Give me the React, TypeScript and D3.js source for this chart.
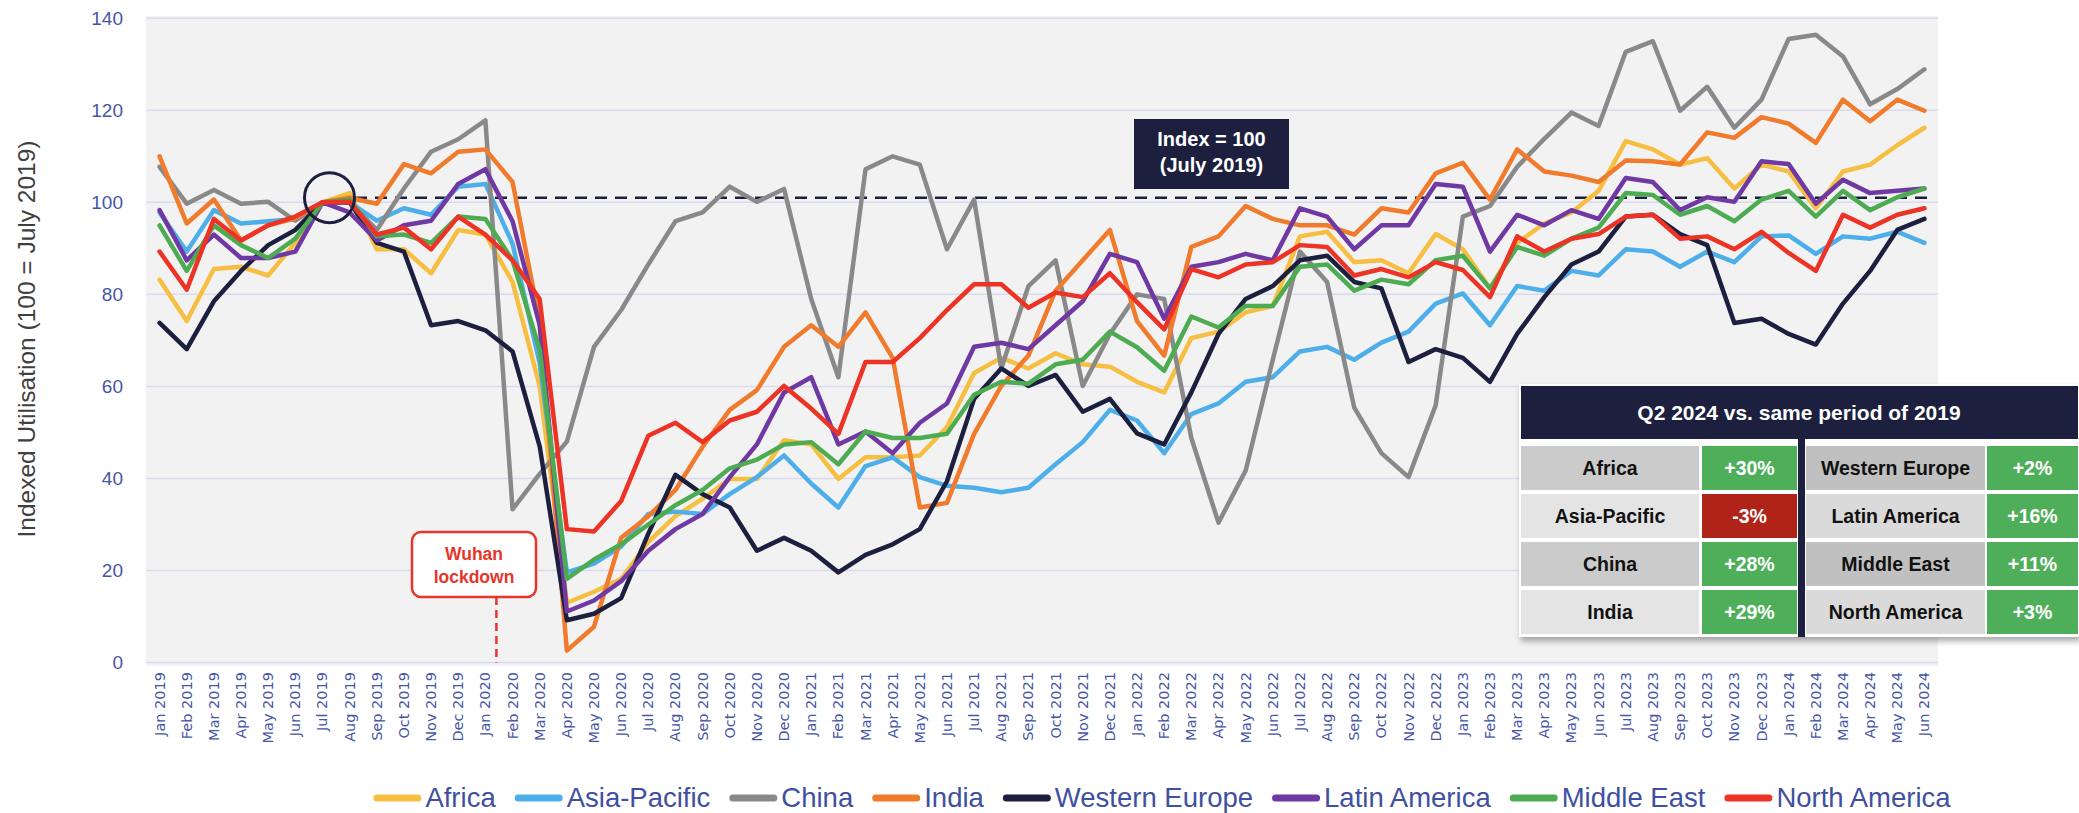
import React, { useRef, useEffect } from "react";
import * as d3 from "d3";

const MONTH_NAMES = ["Jan", "Feb", "Mar", "Apr", "May", "Jun", "Jul", "Aug", "Sep", "Oct", "Nov", "Dec"];
const YEARS = [2019, 2020, 2021, 2022, 2023, 2024];
export const months = YEARS.flatMap((yr) => MONTH_NAMES.map((m) => `${m} ${yr}`)).slice(0, 66);

// indexed utilisation, 100 = July 2019
export const africa = [
  83.2, 74.2, 85.5, 86, 84.1, 91.2, 100, 102, 89.8, 89.8, 84.6, 94,
  93, 82.7, 60, 13, 15.4, 18.2, 26.2, 31.8, 35.6, 39.9, 39.9, 48.3,
  47.4, 39.9, 44.6, 44.6, 45, 51.2, 62.9, 66.2, 63.9, 67.2, 64.8, 64.3,
  61, 58.7, 70.5, 71.9, 76.1, 77.5, 92.6, 93.6, 87, 87.4, 84.6, 93.1,
  89.8, 81.3, 91.2, 95.4, 97.8, 102.5, 113.3, 111.5, 108.2, 109.6, 103, 108.2,
  106.7, 98.7, 106.7, 108.2, 112.4, 116.2,
];
export const asiaPacific = [
  97.8, 89.3, 98.3, 95.4, 95.9, 96.4, 100, 100, 96, 98.7, 97.3, 103.4,
  104, 91, 65, 19.6, 21.5, 25.2, 32.3, 32.8, 32.3, 36.6, 40.3, 45,
  38.9, 33.7, 42.7, 44.6, 40.3, 38.4, 38, 37, 38, 43.1, 47.9, 54.9,
  52.6, 45.5, 54, 56.3, 61, 62, 67.6, 68.6, 65.8, 69.5, 71.9, 78,
  80.2, 73.3, 81.8, 80.8, 85.1, 84.1, 89.8, 89.3, 86, 89.3, 87, 92.6,
  92.8, 88.8, 92.6, 92.1, 93.6, 91.2,
];
export const china = [
  107.7, 99.7, 102.7, 99.7, 100.1, 96, 100, 100, 94, 103, 111, 113.7,
  117.8, 33.3, 41, 48, 68.6, 76.6, 86.5, 95.9, 97.8, 103.4, 100.1, 102.9,
  79, 62, 107.2, 110, 108.2, 89.8, 100.6, 63.9, 81.8, 87.4, 60.1, 71.4,
  80, 79, 48.8, 30.4, 41.7, 65.8, 89.3, 82.7, 55.4, 45.5, 40.3, 55.9,
  96.9, 99.2, 107.7, 113.8, 119.5, 116.6, 132.7, 135, 119.9, 125.1, 116.2, 122.3,
  135.5, 136.4, 131.7, 121.3, 124.6, 128.9,
];
export const india = [
  110, 95.4, 100.6, 91.7, 95, 96.5, 100, 101, 99.7, 108.3, 106.3, 111,
  111.5, 104.4, 74, 2.6, 7.8, 27.1, 31.8, 37.5, 46.9, 54.9, 59.2, 68.6,
  73.3, 68.6, 76.1, 66.2, 33.7, 34.7, 49.7, 60.1, 66.7, 80.8, 87.4, 94,
  74.2, 66.7, 90.3, 92.6, 99.2, 96.4, 95, 95, 93, 98.7, 97.8, 106.3,
  108.6, 100.6, 111.5, 106.7, 105.8, 104.4, 109.1, 108.9, 108.2, 115.2, 114, 118.5,
  117.1, 112.9, 122.3, 117.6, 122.3, 119.9,
];
export const westernEurope = [
  73.8, 68.1, 78.5, 85.1, 90.7, 94, 100, 100, 91.2, 89.3, 73.3, 74.2,
  72.2, 67.6, 47, 9.2, 10.6, 14, 28, 40.8, 36.6, 33.7, 24.3, 27.1,
  24.3, 19.6, 23.4, 25.7, 29, 39.4, 57.3, 63.9, 60.1, 62.5, 54.5, 57.3,
  49.8, 47.4, 58.7, 71.4, 79, 81.8, 87.4, 88.4, 82.7, 81.3, 65.3, 68.1,
  66.2, 61, 71.4, 79.4, 86.5, 89.3, 96.9, 97.3, 93.1, 90.7, 73.8, 74.7,
  71.4, 69.1, 78, 85.1, 94, 96.4,
];
export const latinAmerica = [
  98.3, 87.4, 93, 87.9, 87.9, 89.3, 100, 97.8, 91.7, 95, 96, 104,
  107.2, 95.9, 73.3, 11.1, 13.5, 17.7, 24.3, 29, 32.3, 40.3, 47.4, 58.7,
  62, 47.4, 50.2, 45.5, 52.1, 56.3, 68.6, 69.5, 68.1, 73.3, 78.5, 88.8,
  87, 74.7, 86, 87, 88.8, 87.4, 98.7, 96.9, 89.8, 95, 95, 104,
  103.4, 89.3, 97.3, 95, 98.3, 96.4, 105.3, 104.4, 98.3, 101.1, 100.1, 108.9,
  108.3, 99.7, 104.9, 102, 102.5, 103,
];
export const middleEast = [
  95, 85.1, 95, 90.7, 87.9, 92.1, 100, 100.6, 92.6, 93, 91.2, 96.9,
  96.4, 87.4, 68, 18.2, 22.4, 25.7, 30, 34.2, 37.5, 42.2, 44.1, 47.4,
  47.9, 43.1, 50.2, 48.8, 48.8, 49.7, 58.2, 61, 60.6, 64.8, 65.8, 71.9,
  68.5, 63.4, 75.2, 72.8, 77.5, 77.5, 86, 86.5, 80.8, 83.2, 82.2, 87.4,
  88.4, 81.3, 90.3, 88.4, 92.1, 94.5, 102, 101.6, 97.3, 99.2, 95.9, 100.6,
  102.5, 96.9, 102.5, 98.3, 101.1, 103,
];
export const northAmerica = [
  89.3, 81, 96.4, 91.7, 95, 96.9, 100, 100.1, 93, 94.5, 89.8, 96.9,
  93, 87.4, 79, 29, 28.5, 35.1, 49.3, 52.1, 47.9, 52.6, 54.5, 60.1,
  55.2, 49.7, 65.3, 65.3, 70.5, 76.6, 82.2, 82.2, 77.1, 80.4, 79.4, 84.6,
  78.3, 72.4, 85.5, 83.7, 86.5, 87, 90.7, 90.3, 84.1, 85.5, 83.7, 87,
  85.3, 79.4, 92.6, 89.3, 92.1, 93.1, 96.9, 97.3, 92.1, 92.6, 89.8, 93.6,
  89, 85.1, 97.3, 94.5, 97.3, 98.7,
];

export const seriesNames = ["Africa", "Asia-Pacific", "China", "India", "Western Europe", "Latin America", "Middle East", "North America"];
export const seriesValues = [africa, asiaPacific, china, india, westernEurope, latinAmerica, middleEast, northAmerica];
export const seriesColors = ["#f7bf42", "#4daeea", "#898989", "#f07b2c", "#1c1f3e", "#6f38a3", "#4dab52", "#ec3325"];

// Q2 2024 vs. same period of 2019
export const q2Change = ["+30%", "-3%", "+28%", "+29%", "+2%", "+16%", "+11%", "+3%"];

export const yTicks = [0, 20, 40, 60, 80, 100, 120, 140];

const NAVY = "#1c1f3e";
const FONT = "'Liberation Sans', Arial, sans-serif";

const Chart = () => {
  const ref = useRef(null);

  useEffect(() => {
    const svg = d3.select(ref.current);
    svg.selectAll("*").remove();

    const left = 146, right = 1938;
    const x = d3.scaleBand().domain(months).range([left, right]).padding(0);
    const xc = (m) => x(m) + x.bandwidth() / 2;
    const y = d3.scaleLinear().domain([0, 140]).range([662.6, 18.2]);

    const defs = svg.append("defs");
    const f = defs.append("filter").attr("id", "shadow").attr("x", "-5%").attr("y", "-5%").attr("width", "112%").attr("height", "115%");
    f.append("feDropShadow").attr("dx", 2).attr("dy", 4).attr("stdDeviation", 3).attr("flood-color", "#000").attr("flood-opacity", 0.35);

    // plot background + grid
    svg.append("rect").attr("x", left).attr("y", 16).attr("width", right - left).attr("height", 650).attr("fill", "#f2f2f2");
    svg.append("g").selectAll("line").data(yTicks).enter().append("line")
      .attr("x1", left).attr("x2", right)
      .attr("y1", (d) => y(d)).attr("y2", (d) => y(d))
      .attr("stroke", "#d9d9ef").attr("stroke-width", 1.5);

    svg.append("g").selectAll("text").data(yTicks).enter().append("text")
      .attr("x", 123).attr("y", (d) => y(d)).attr("dy", "0.36em")
      .attr("text-anchor", "end")
      .style("font-family", FONT).style("font-size", "19px").attr("fill", "#4656a6")
      .text((d) => d);

    svg.append("text")
      .attr("transform", "translate(26, 339) rotate(-90)")
      .attr("text-anchor", "middle").attr("dy", "0.35em")
      .style("font-family", FONT).style("font-size", "24.5px").attr("fill", "#404040")
      .text("Indexed Utilisation (100 = July 2019)");

    // x tick labels
    svg.append("g").selectAll("text").data(months).enter().append("text")
      .attr("transform", (d) => `translate(${xc(d) + 5}, 672) rotate(-90)`)
      .attr("text-anchor", "end")
      .style("font-family", "'DejaVu Sans', sans-serif").style("font-size", "14.5px").attr("fill", "#4656a6")
      .text((d) => d);

    // Wuhan lockdown annotation
    const wx = xc("Jan 2020") + 11;
    svg.append("line").attr("x1", wx).attr("x2", wx).attr("y1", 597).attr("y2", y(0))
      .attr("stroke", "#e8352b").attr("stroke-width", 2.5).attr("stroke-dasharray", "8 5");
    svg.append("rect").attr("x", 412).attr("y", 532).attr("width", 124).attr("height", 65).attr("rx", 9)
      .attr("fill", "#fff").attr("stroke", "#e8352b").attr("stroke-width", 2.5);
    [["Wuhan", 560], ["lockdown", 583]].forEach(([t, ty]) => {
      svg.append("text").attr("x", 474).attr("y", ty).attr("text-anchor", "middle")
        .style("font-family", FONT).style("font-size", "17.5px").style("font-weight", "bold").attr("fill", "#e8352b")
        .text(t);
    });

    // index = 100 reference
    svg.append("line").attr("x1", 355).attr("x2", 1932).attr("y1", y(101)).attr("y2", y(101))
      .attr("stroke", NAVY).attr("stroke-width", 2.5).attr("stroke-dasharray", "12 8");

    // lines
    const line = d3.line().x((d, i) => xc(months[i])).y((d) => y(d));
    svg.append("g").selectAll("path").data(seriesValues).enter().append("path")
      .attr("d", (d) => line(d))
      .attr("fill", "none")
      .attr("stroke", (d, i) => seriesColors[i])
      .attr("stroke-width", 4.5)
      .attr("stroke-linejoin", "round").attr("stroke-linecap", "round");

    svg.append("circle").attr("cx", xc("Jul 2019") + 7).attr("cy", y(101)).attr("r", 25)
      .attr("fill", "none").attr("stroke", NAVY).attr("stroke-width", 3);

    svg.append("rect").attr("x", 1134).attr("y", 119).attr("width", 155).attr("height", 70).attr("fill", NAVY);
    [["Index = 100", 146], ["(July 2019)", 172]].forEach(([t, ty]) => {
      svg.append("text").attr("x", 1211.5).attr("y", ty).attr("text-anchor", "middle")
        .style("font-family", FONT).style("font-size", "20px").style("font-weight", "bold").attr("fill", "#fff")
        .text(t);
    });

    // comparison table
    const tb = svg.append("g");
    tb.append("rect").attr("x", 1519).attr("y", 384).attr("width", 560).attr("height", 253)
      .attr("fill", "#fff").attr("filter", "url(#shadow)");
    tb.append("rect").attr("x", 1521).attr("y", 386).attr("width", 557).attr("height", 53).attr("fill", NAVY);
    tb.append("text").attr("x", 1799).attr("y", 420).attr("text-anchor", "middle")
      .style("font-family", FONT).style("font-size", "21px").style("font-weight", "bold").attr("fill", "#fff")
      .text("Q2 2024 vs. same period of 2019");

    const cols = [
      { lx: 1521, lw: 178, vx: 1702, vw: 95, fills: ["#cbcbcb", "#e4e4e4"] },
      { lx: 1806, lw: 179, vx: 1987, vw: 91, fills: ["#c0c0c0", "#dadada"] },
    ];
    seriesNames.forEach((name, k) => {
      const c = cols[Math.floor(k / 4)];
      const r = k % 4;
      const ry = 446 + r * 48;
      const rh = 44;
      const neg = q2Change[k].startsWith("-");
      tb.append("rect").attr("x", c.lx).attr("y", ry).attr("width", c.lw).attr("height", rh).attr("fill", c.fills[r % 2]);
      tb.append("rect").attr("x", c.vx).attr("y", ry).attr("width", c.vw).attr("height", rh).attr("fill", neg ? "#b02318" : "#4fae5a");
      tb.append("text").attr("x", c.lx + c.lw / 2).attr("y", ry + rh / 2).attr("dy", "0.36em").attr("text-anchor", "middle")
        .style("font-family", FONT).style("font-size", "19.5px").style("font-weight", "bold").attr("fill", "#111")
        .text(name);
      tb.append("text").attr("x", c.vx + c.vw / 2).attr("y", ry + rh / 2).attr("dy", "0.36em").attr("text-anchor", "middle")
        .style("font-family", FONT).style("font-size", "19.5px").style("font-weight", "bold").attr("fill", "#fff")
        .text(q2Change[k]);
    });
    tb.append("rect").attr("x", 1798).attr("y", 439).attr("width", 7).attr("height", 198).attr("fill", NAVY);

    // legend
    const lg = svg.append("g");
    const items = seriesNames.map((name, i) => {
      const g = lg.append("g");
      g.append("line").attr("x1", 3.5).attr("x2", 44.5).attr("y1", 798).attr("y2", 798)
        .attr("stroke", seriesColors[i]).attr("stroke-width", 7).attr("stroke-linecap", "round");
      const t = g.append("text").attr("x", 52).attr("y", 807)
        .style("font-family", FONT).style("font-size", "27.5px").attr("fill", "#4050a0")
        .text(name);
      return { g, w: 52 + t.node().getComputedTextLength() };
    });
    const gap = 19;
    const total = d3.sum(items, (d) => d.w) + gap * (items.length - 1);
    let cx = 1162 - total / 2;
    items.forEach((it) => {
      it.g.attr("transform", `translate(${cx},0)`);
      cx += it.w + gap;
    });
  }, []);

  return (
    <svg
      ref={ref}
      width={2079}
      height={813}
      style={{ position: "absolute", left: 0, top: 0, display: "block", background: "#fff" }}
    />
  );
};

export default function App() {
  return <Chart />;
}
